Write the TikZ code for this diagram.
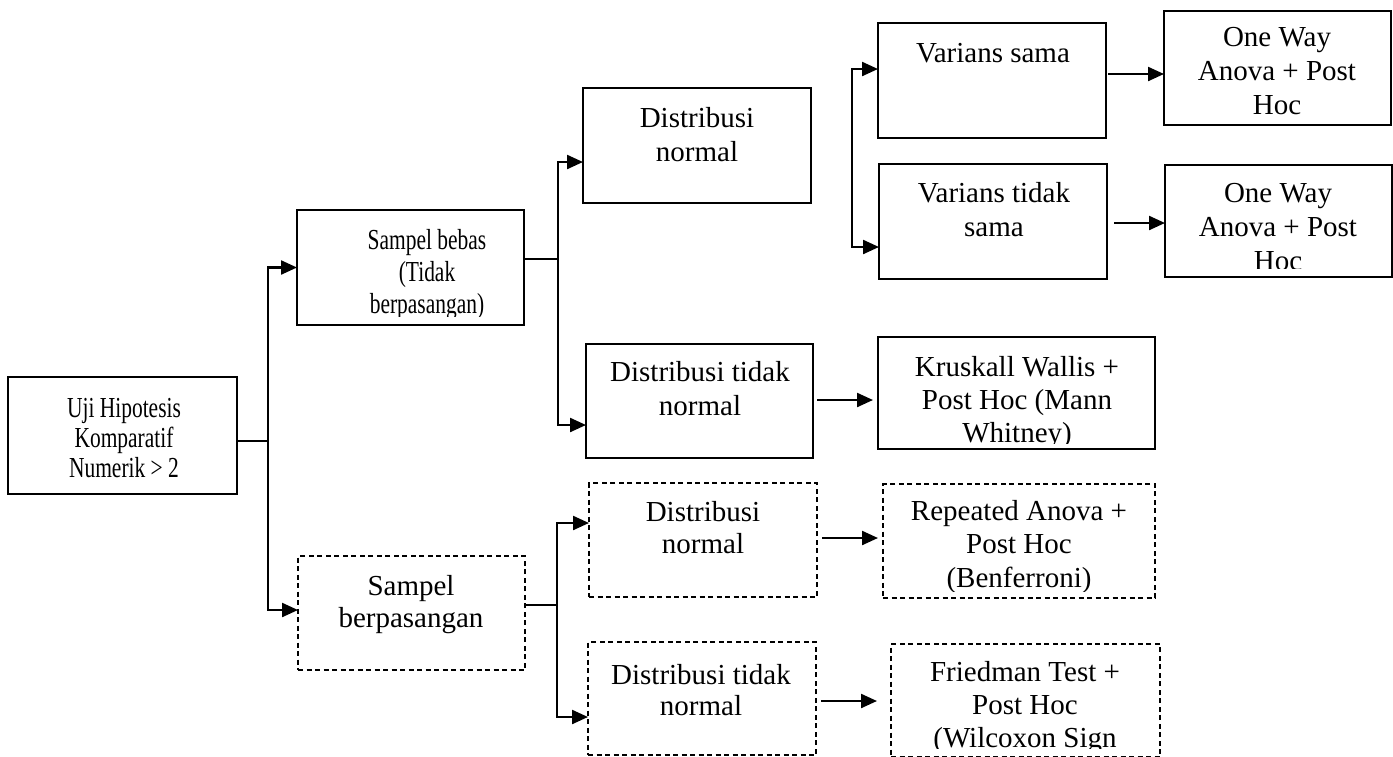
\documentclass[tikz,border=0pt]{standalone}
\usepackage{fontspec}
\setmainfont{Liberation Serif}
\newfontfamily\narrowserif[FakeStretch=0.74]{Liberation Serif}
\usetikzlibrary{arrows.meta}
\begin{document}
\begin{tikzpicture}[x=1pt,y=-1pt,
  box/.style={draw=black, line width=1.2pt, inner sep=0pt, outer sep=0pt, rectangle},
  dbox/.style={box, dash pattern=on 5pt off 3.5pt},
  txt/.style={anchor=base, text width=300pt, align=flush center, inner sep=0pt, font=\fontsize{29}{34}\selectfont},
  ntxt/.style={txt, font=\narrowserif\fontsize{29}{30}\selectfont},
  conn/.style={line width=2.3pt},
  arr/.style={conn, -{Triangle[length=16pt,width=14pt]}}
]
\useasboundingbox (0,0) rectangle (1393,756);
\clip (0,0) rectangle (1393,756);

% ---------- boxes ----------
\node[box, minimum width=229pt, minimum height=117pt] (uji)  at (122.5,435.5) {};
\node[box, minimum width=227pt, minimum height=115pt] (sb)   at (410.5,267.5) {};
\node[box, minimum width=228pt, minimum height=115pt] (dn1)  at (697,145.5) {};
\node[box, minimum width=227pt, minimum height=114pt] (dtn1) at (699.5,401) {};
\node[box, minimum width=228pt, minimum height=115pt] (vs)   at (992,80.5) {};
\node[box, minimum width=228pt, minimum height=115pt] (vts)  at (993,221.5) {};
\node[box, minimum width=227pt, minimum height=114pt] (ow1)  at (1277.5,68) {};
\node[box, minimum width=227pt, minimum height=112pt] (ow2)  at (1278.5,221) {};
\node[box, minimum width=277pt, minimum height=112pt] (kw)   at (1016.5,393) {};
\node[dbox, minimum width=227pt, minimum height=114pt] (spb) at (411.5,613) {};
\node[dbox, minimum width=228pt, minimum height=114pt] (dn2) at (703,540) {};
\node[dbox, minimum width=228pt, minimum height=113pt] (dtn2) at (702,698.5) {};
\node[dbox, minimum width=272pt, minimum height=114pt] (rep) at (1019,541) {};
\node[dbox, minimum width=269pt, minimum height=113pt] (fr)  at (1025.5,700.5) {};

% ---------- texts ----------
\node[ntxt] (tuji) at (124,417) {Uji Hipotesis\\Komparatif\\Numerik > 2};
\begin{scope}
  \clip (297,210) rectangle (524,316);
  \node[ntxt, font=\narrowserif\fontsize{29}{32}\selectfont] (tsb) at (427,249) {Sampel bebas\\(Tidak\\berpasangan)};
\end{scope}
\node[txt] (tdn1) at (697,127) {Distribusi\\normal};
\node[txt] (tdtn1) at (700,381) {Distribusi tidak\\normal};
\node[txt] (tvs) at (993,62) {Varians sama};
\node[txt] (tvts) at (994,202) {Varians tidak\\sama};
\node[txt] (tow1) at (1277,46) {One Way\\Anova + Post\\Hoc};
\begin{scope}
  \clip (1165,165) rectangle (1392,268);
  \node[txt] (tow2) at (1278,202) {One Way\\Anova + Post\\Hoc};
\end{scope}
\begin{scope}
  \clip (878,337) rectangle (1155,443);
  \node[txt, font=\fontsize{29}{33}\selectfont] (tkw) at (1017,376) {Kruskall Wallis +\\Post Hoc (Mann\\Whitney)};
\end{scope}
\node[txt, font=\fontsize{29}{32}\selectfont] (tspb) at (411,595) {Sampel\\berpasangan};
\node[txt, font=\fontsize{29}{32}\selectfont] (tdn2) at (703,521) {Distribusi\\normal};
\node[txt, font=\fontsize{29}{31}\selectfont] (tdtn2) at (701,684) {Distribusi tidak\\normal};
\begin{scope}
  \clip (883,484) rectangle (1155,591);
  \node[txt, font=\fontsize{29}{33.5}\selectfont] (trep) at (1019,520) {Repeated Anova +\\Post Hoc\\(Benferroni)};
\end{scope}
\begin{scope}
  \clip (891,644) rectangle (1160,748);
  \node[txt, font=\fontsize{29}{33}\selectfont] (tfr) at (1025,681) {Friedman Test +\\Post Hoc\\(Wilcoxon Sign};
\end{scope}

% ---------- connectors ----------
\coordinate (j1) at (268,441);
\coordinate (j2) at (558,259);
\coordinate (j3) at (852,158);
\coordinate (j4) at (557,605);

\draw[conn] ([yshift=-5.5pt]uji.east) -- (j1);
\draw[arr] (j1) |- (sb.west);
\draw[arr] (j1) |- ([yshift=3pt]spb.west);

\draw[conn] ([yshift=8.5pt]sb.east) -- (j2);
\draw[arr] (j2) |- ([yshift=-16.5pt]dn1.west);
\draw[arr] (j2) |- ([yshift=-24pt]dtn1.west);

\draw[arr] (j3) |- ([yshift=11.5pt]vs.west);
\draw[arr] (j3) |- ([yshift=-25.5pt]vts.west);

\draw[arr] ([xshift=2pt,yshift=6.5pt]vs.east) -- ([yshift=-6pt]ow1.west);
\draw[arr] ([xshift=7pt,yshift=-1.5pt]vts.east) -- ([yshift=-2pt]ow2.west);
\draw[arr] ([xshift=4pt,yshift=1pt]dtn1.east) -- ([xshift=-5pt,yshift=-7pt]kw.west);

\draw[conn] ([yshift=8pt]spb.east) -- (j4);
\draw[arr] (j4) |- ([yshift=17pt]dn2.west);
\draw[arr] (j4) |- ([yshift=-18.5pt]dtn2.west);

\draw[arr] ([xshift=5pt,yshift=2pt]dn2.east) -- ([xshift=-5pt,yshift=3pt]rep.west);
\draw[arr] ([xshift=5pt,yshift=-2.5pt]dtn2.east) -- ([xshift=-14pt,yshift=-0.5pt]fr.west);
\end{tikzpicture}
\end{document}
